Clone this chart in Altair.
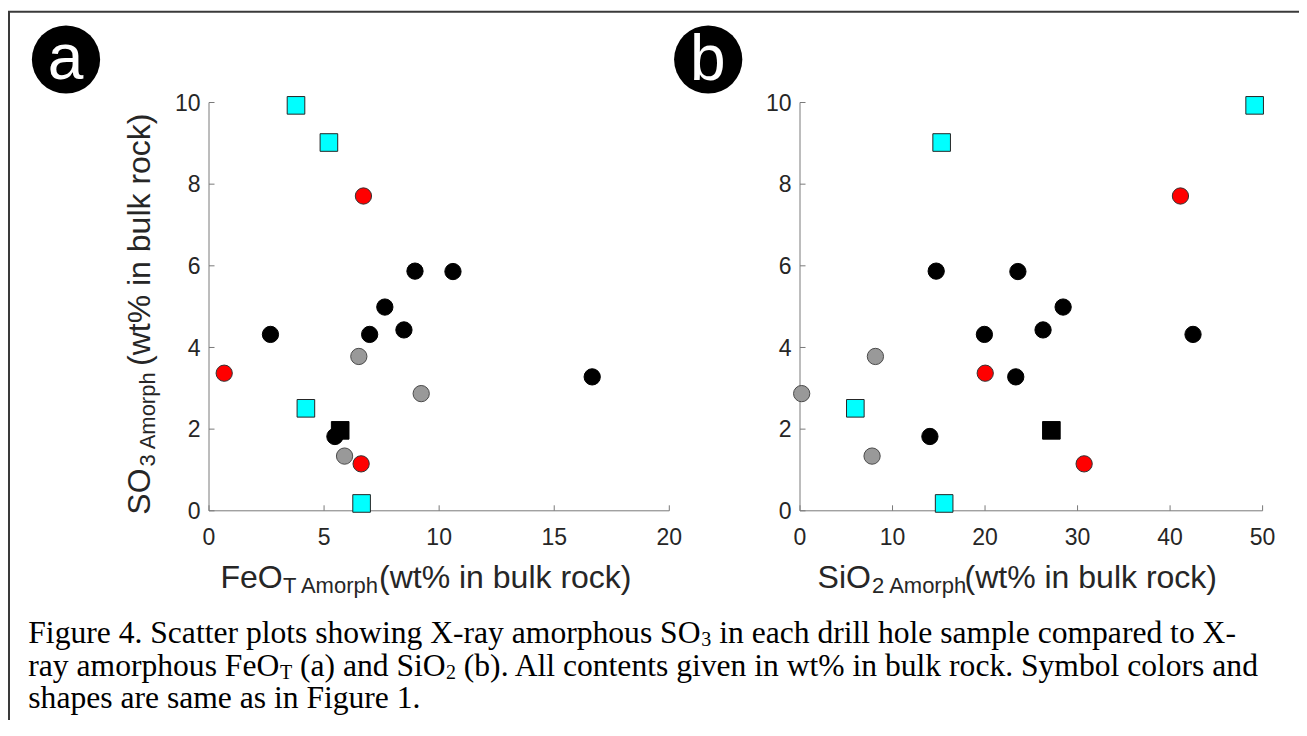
import altair as alt
import pandas as pd

# ---------------- data ----------------
GROUPS = ["cyan", "blacksq", "red", "gray", "black"]
FILLS = ["#00FFFF", "#000000", "#FF0000", "#999999", "#000000"]
STROKES = ["#262626", "#000000", "#333333", "#4a4a4a", "#000000"]

grp = ["black"] * 8 + ["gray"] * 3 + ["red"] * 3 + ["blacksq"] + ["cyan"] * 4

# panel a : FeO_T amorph vs SO3 amorph
feo_a = [8.95, 10.60, 7.64, 2.67, 6.98, 8.47, 16.65, 5.47,
         6.51, 9.22, 5.89,
         6.71, 0.66, 6.61,
         5.70,
         3.78, 5.21, 4.21, 6.63]
so3_a = [5.87, 5.86, 4.99, 4.32, 4.32, 4.43, 3.28, 1.82,
         3.78, 2.87, 1.34,
         7.71, 3.37, 1.15,
         1.97,
         9.93, 9.02, 2.51, 0.18]

# panel b : SiO2 amorph vs SO3 amorph
sio2_b = [14.72, 23.55, 28.44, 19.93, 26.27, 42.48, 23.32, 14.04,
          8.15, 0.18, 7.79,
          41.12, 20.02, 30.71,
          27.17,
          49.14, 15.31, 5.98, 15.58]
so3_b = [5.87, 5.86, 4.99, 4.32, 4.43, 4.32, 3.28, 1.82,
         3.78, 2.87, 1.34,
         7.71, 3.37, 1.15,
         1.97,
         9.93, 9.02, 2.51, 0.18]

xticks_a = [0, 5, 10, 15, 20]
xticks_b = [0, 10, 20, 30, 40, 50]
yticks = [0, 2, 4, 6, 8, 10]

df_a = pd.DataFrame({"xv": feo_a, "so3": so3_a, "g": grp})
df_b = pd.DataFrame({"xv": sio2_b, "so3": so3_b, "g": grp})

# ---------------- layout ----------------
OX, OY = 14, 12          # page position of the view origin
W, H = 1285, 708


def lx(x):
    return x - OX


def ly(y):
    return y - OY


AX_C = "#7a7a7a"
LAB_C = "#262626"
SANS = "Liberation Sans"
SERIF = "Liberation Serif"

Y_RANGE = [ly(510.8), ly(102.5)]
XA_RANGE = [lx(209.0), lx(669.3)]
XB_RANGE = [lx(800.0), lx(1262.6)]

ONE = alt.Data(values=[{"k": 0}])


def panel(df, xdom, xrange, xticks):
    xscale = alt.Scale(domain=xdom, range=xrange, nice=False, zero=False)
    yscale = alt.Scale(domain=[0, 10], range=Y_RANGE, nice=False, zero=False)
    y0 = Y_RANGE[0]
    x0 = xrange[0]
    is_sq = (alt.datum.g == "cyan") | (alt.datum.g == "blacksq")

    xdomain = alt.Chart(pd.DataFrame({"lo": [xdom[0]], "hi": [xdom[1]]})).mark_rule(
        color=AX_C, strokeWidth=1).encode(
        x=alt.X("lo:Q", scale=xscale, axis=None), x2="hi:Q", y=alt.value(y0))
    ydomain = alt.Chart(pd.DataFrame({"lo": [0], "hi": [10]})).mark_rule(
        color=AX_C, strokeWidth=1).encode(
        y=alt.Y("lo:Q", scale=yscale, axis=None), y2="hi:Q", x=alt.value(x0))
    xt = alt.Chart(pd.DataFrame({"v": xticks})).mark_rule(
        color=AX_C, strokeWidth=1).encode(
        x=alt.X("v:Q", scale=xscale, axis=None),
        y=alt.value(y0), y2=alt.value(y0 - 5.5))
    yt = alt.Chart(pd.DataFrame({"v": yticks})).mark_rule(
        color=AX_C, strokeWidth=1).encode(
        y=alt.Y("v:Q", scale=yscale, axis=None),
        x=alt.value(x0), x2=alt.value(x0 + 5.5))
    xlab = alt.Chart(pd.DataFrame({"v": xticks})).mark_text(
        font=SANS, fontSize=23, color=LAB_C, align="center",
        baseline="alphabetic").encode(
        x=alt.X("v:Q", scale=xscale, axis=None),
        y=alt.value(ly(544.6)), text=alt.Text("v:Q", format="d"))
    ylab = alt.Chart(pd.DataFrame({"v": yticks})).mark_text(
        font=SANS, fontSize=23, color=LAB_C, align="right",
        baseline="alphabetic", dy=8.3).encode(
        y=alt.Y("v:Q", scale=yscale, axis=None),
        x=alt.value(x0 - 8.5), text=alt.Text("v:Q", format="d"))
    pts = alt.Chart(df).mark_point(filled=True, opacity=1, fillOpacity=1,
                                   strokeWidth=1).encode(
        x=alt.X("xv:Q", scale=xscale, axis=None),
        y=alt.Y("so3:Q", scale=yscale, axis=None),
        fill=alt.Fill("g:N", scale=alt.Scale(domain=GROUPS, range=FILLS)),
        stroke=alt.Stroke("g:N", scale=alt.Scale(domain=GROUPS, range=STROKES)),
        shape=alt.when(is_sq).then(alt.value("square")).otherwise(alt.value("circle")),
        size=alt.when(is_sq).then(alt.value(310)).otherwise(alt.value(265)),
    )
    return alt.layer(xdomain, ydomain, xt, yt, xlab, ylab, pts)


def piece(s, x, y, size, font, color="#000000", angle=0, align="left"):
    kw = dict(text=s, font=font, fontSize=size, color=color, align=align,
              baseline="alphabetic")
    if angle:
        kw["angle"] = angle
    return alt.Chart(ONE).mark_text(**kw).encode(x=alt.value(lx(x)), y=alt.value(ly(y)))


def hrule(x1, x2, y):
    return alt.Chart(ONE).mark_rule(color="#3a3a3a", strokeWidth=2).encode(
        x=alt.value(lx(x1)), x2=alt.value(lx(x2)), y=alt.value(ly(y)))


def vrule(x, y1, y2):
    return alt.Chart(ONE).mark_rule(color="#3a3a3a", strokeWidth=2).encode(
        x=alt.value(lx(x)), y=alt.value(ly(y1)), y2=alt.value(ly(y2)))


def badge(cx, cy):
    return alt.Chart(ONE).mark_circle(size=4657, color="#000000", opacity=1).encode(
        x=alt.value(lx(cx)), y=alt.value(ly(cy)))


MAIN, SUB = 32, 22
CAP, CSUB = 31.6, 20
B1, B2, B3 = 643.0, 675.5, 708.0

decor = [
    hrule(8, 1307, 11.7),
    vrule(9, 11.7, 740),
    badge(66, 59.5),
    badge(708.2, 59.5),
    piece("a", 65.5, 78.5, 64, SANS, "#ffffff", align="center"),
    piece("b", 707.8, 80, 64, SANS, "#ffffff", align="center"),
    # x title panel a
    piece("FeO", 220.5, 588.0, MAIN, SANS, LAB_C),
    piece("T Amorph", 283.0, 592.5, SUB, SANS, LAB_C),
    piece("(wt% in bulk rock)", 379.0, 588.0, MAIN, SANS, LAB_C),
    # x title panel b
    piece("SiO", 817.6, 588.0, MAIN, SANS, LAB_C),
    piece("2 Amorph", 872.0, 592.5, SUB, SANS, LAB_C),
    piece("(wt% in bulk rock)", 964.5, 588.0, MAIN, SANS, LAB_C),
    # y title panel a (rotated)
    piece("SO", 150, 514.7, MAIN, SANS, LAB_C, angle=270),
    piece("3 Amorph", 154.5, 466.5, SUB, SANS, LAB_C, angle=270),
    piece("(wt% in bulk rock)", 150, 366.0, MAIN, SANS, LAB_C, angle=270),
    # caption line 1
    piece("Figure 4. Scatter plots showing X-ray amorphous SO", 28.3, B1, CAP, SERIF),
    piece("3", 701.2, B1 + 3, CSUB, SERIF),
    piece("in each drill hole sample compared to X-", 719.2, B1, CAP, SERIF),
    # caption line 2
    piece("ray amorphous FeO", 28.3, B2, CAP, SERIF),
    piece("T", 280.0, B2 + 3, CSUB, SERIF),
    piece("(a) and SiO", 300.0, B2, CAP, SERIF),
    piece("2", 446.0, B2 + 3, CSUB, SERIF),
    piece("(b). All contents given in wt% in bulk rock. Symbol colors and", 463.8, B2, CAP, SERIF),
    # caption line 3
    piece("shapes are same as in Figure 1.", 28.3, B3, CAP, SERIF),
]

pa = panel(df_a, [0, 20], XA_RANGE, xticks_a)
pb = panel(df_b, [0, 50], XB_RANGE, xticks_b)

chart = alt.layer(pa, pb, *decor).resolve_scale(
    x="independent", y="independent"
).properties(
    width=W, height=H,
    autosize=alt.AutoSizeParams(type="none"),
    padding={"left": 6, "top": 4, "right": 0, "bottom": 0},
    background="#ffffff",
).configure_view(strokeOpacity=0).configure_legend(disable=True)

chart.save("out.html", embed_options={"renderer": "svg", "actions": False})
